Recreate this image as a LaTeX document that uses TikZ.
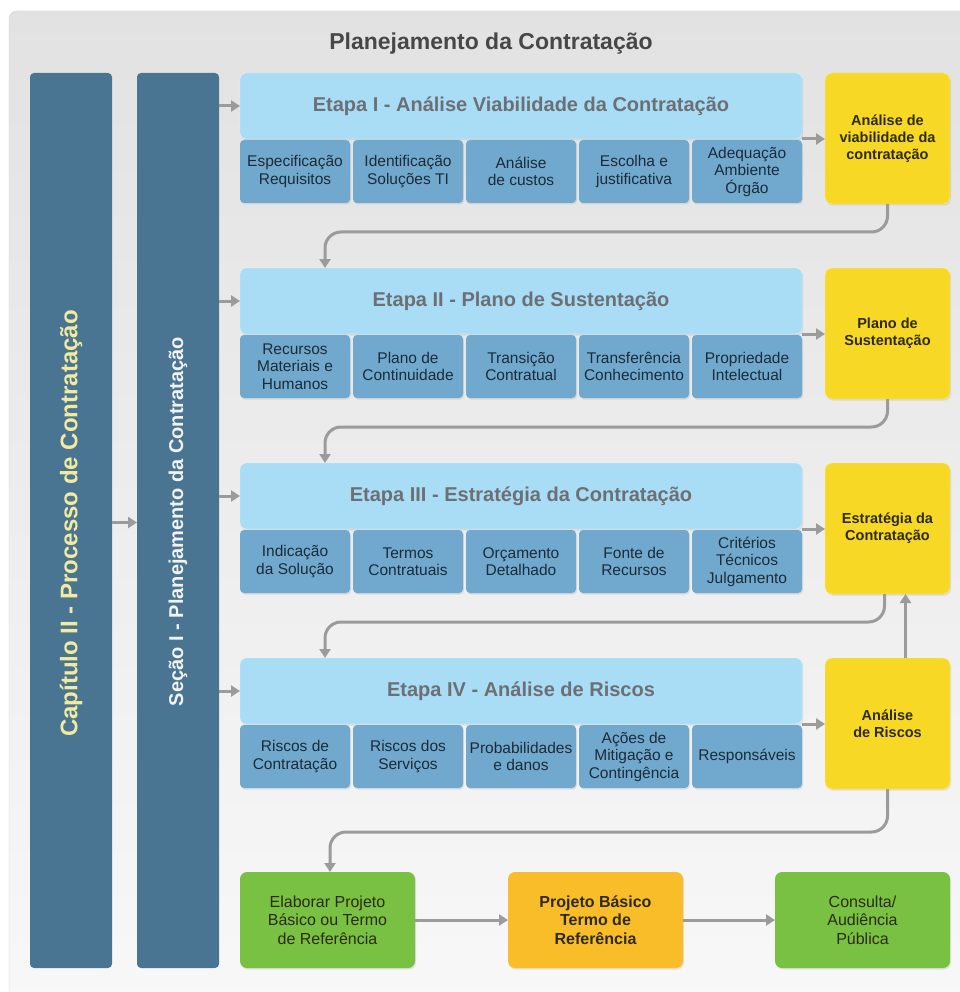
\documentclass[tikz,border=0pt]{standalone}
\usepackage{fontspec}
\setmainfont{Liberation Sans}
\usetikzlibrary{arrows.meta,shadows}

\definecolor{panelTop}{HTML}{E2E2E2}
\definecolor{panelBot}{HTML}{F8F8F8}
\definecolor{panelEdge}{HTML}{D2D2D2}
\definecolor{titleGrey}{HTML}{474747}
\definecolor{colBlue}{HTML}{4A7592}
\definecolor{colTextA}{HTML}{F2EA9E}
\definecolor{colTextB}{HTML}{F2F2F2}
\definecolor{headBlue}{HTML}{A9DCF5}
\definecolor{headText}{HTML}{6C7074}
\definecolor{subBlue}{HTML}{70A9CD}
\definecolor{subText}{HTML}{1D2B38}
\definecolor{resYellow}{HTML}{F7D925}
\definecolor{resText}{HTML}{2E2A10}
\definecolor{stepGreen}{HTML}{78C143}
\definecolor{stepOrange}{HTML}{F9BD29}
\definecolor{linkGrey}{HTML}{9B9B9B}

% one stage: header, five topic boxes, result box and the two short arrows
\newcommand\EtapaRow[9]{%
  \node[head] (h#1) at (240,#2) {#3};
  \node[topic] (s#1a) at (240,#2+67) {#4};
  \node[topic] (s#1b) at (353,#2+67) {#5};
  \node[topic] (s#1c) at (466,#2+67) {#6};
  \node[topic] (s#1d) at (579,#2+67) {#7};
  \node[topic] (s#1e) at (692,#2+67) {#8};
  \node[result] (y#1) at (825,#2) {#9};
  \draw[link] (c2.east |- h#1.west) -- (h#1.west);
  \draw[link] (h#1.south east) -- (h#1.south east -| y#1.west);
}

\begin{document}
\begin{tikzpicture}[x=1pt,y=-1pt,
  every node/.style={inner sep=0pt, outer sep=0pt, align=center},
  soft/.style={drop shadow={shadow xshift=1pt, shadow yshift=-1.5pt, opacity=0.18}},
  col/.style={fill=colBlue, rounded corners=4, anchor=north west,
    minimum width=82, minimum height=895},
  head/.style={fill=headBlue, draw=white!70!headBlue, rounded corners=6, anchor=north west,
    minimum width=562, minimum height=66, text=headText,
    font=\fontsize{20}{24}\selectfont\bfseries, soft},
  topic/.style={fill=subBlue, rounded corners=4, anchor=north west,
    minimum width=110, minimum height=63, text=subText,
    font=\fontsize{15.5}{17.5}\selectfont, soft},
  result/.style={fill=resYellow, draw=white!60!resYellow, rounded corners=7, anchor=north west,
    minimum width=125, minimum height=131, text=resText,
    font=\fontsize{14.5}{17}\selectfont\bfseries, soft},
  final/.style={rounded corners=7, anchor=north west,
    minimum width=175, minimum height=96, text=resText,
    font=\fontsize{16}{18.5}\selectfont, soft},
  link/.style={draw=linkGrey, line width=3pt,
    -{Triangle[length=9pt,width=11pt]}},
]
\useasboundingbox (0,0) rectangle (959,992);
\fill[white] (0,0) rectangle (959,992);
\shade[top color=panelTop, bottom color=panelBot, draw=panelEdge, rounded corners=8]
  (9,11) rectangle (990,1010);

\node[font=\fontsize{23}{27}\selectfont\bfseries, text=titleGrey] (title) at (491,44)
  {Planejamento da Contratação};

% the two vertical bands
\node[col] (c1) at (30,73) {};
\node[col] (c2) at (137,73) {};
\node[rotate=90, text=colTextA, font=\fontsize{24}{28}\selectfont\bfseries] (t1)
  at ([yshift=-3pt]c1.center) {Capítulo II - Processo de Contratação};
\node[rotate=90, text=colTextB, font=\fontsize{20}{24}\selectfont\bfseries] (t2)
  at ([yshift=-1pt]c2.center) {Seção I - Planejamento da Contratação};
\draw[link] ([yshift=-2pt]c1.east) -- ([yshift=-2pt]c2.west);

\EtapaRow{1}{73}{Etapa I - Análise Viabilidade da Contratação}
  {Especificação\\Requisitos}{Identificação\\Soluções TI}{Análise\\de custos}
  {Escolha e\\justificativa}{Adequação\\Ambiente\\Órgão}
  {Análise de\\viabilidade da\\contratação}
\EtapaRow{2}{268}{Etapa II - Plano de Sustentação}
  {Recursos\\Materiais e\\Humanos}{Plano de\\Continuidade}{Transição\\Contratual}
  {Transferência\\Conhecimento}{Propriedade\\Intelectual}
  {Plano de\\Sustentação}
\EtapaRow{3}{463}{Etapa III - Estratégia da Contratação}
  {Indicação\\da Solução}{Termos\\Contratuais}{Orçamento\\Detalhado}
  {Fonte de\\Recursos}{Critérios\\Técnicos\\Julgamento}
  {Estratégia da\\Contratação}
\EtapaRow{4}{658}{Etapa IV - Análise de Riscos}
  {Riscos de\\Contratação}{Riscos dos\\Serviços}{Probabilidades\\e danos}
  {Ações de\\Mitigação e\\Contingência}{Responsáveis}
  {Análise\\de Riscos}

% closing row
\node[final, fill=stepGreen] (b1) at (240,872) {Elaborar Projeto\\Básico ou Termo\\de Referência};
\node[final, fill=stepOrange, font=\fontsize{16}{18.5}\selectfont\bfseries] (b2) at (508,872)
  {Projeto Básico\\Termo de\\Referência};
\node[final, fill=stepGreen] (b3) at (775,872) {Consulta/\\Audiência\\Pública};
\draw[link] (b1.east) -- (b2.west);
\draw[link] (b2.east) -- (b3.west);

% flow from each result to the next stage
\coordinate (k1) at (325,232);
\coordinate (k2) at (325,427);
\coordinate (k3) at (325,622);
\coordinate (k4) at (330,832);
\draw[link, rounded corners=16] (y1.south) |- (k1) -- (k1 |- h2.north);
\draw[link, rounded corners=16] (y2.south) |- (k2) -- (k2 |- h3.north);
\draw[link, rounded corners=16] ([xshift=-3pt]y3.south) |- (k3) -- (k3 |- h4.north);
\draw[link] ([xshift=18pt]y4.north) -- ([xshift=18pt]y3.south);
\draw[link, rounded corners=16] (y4.south) |- (k4) -- (k4 |- b1.north);
\end{tikzpicture}
\end{document}
